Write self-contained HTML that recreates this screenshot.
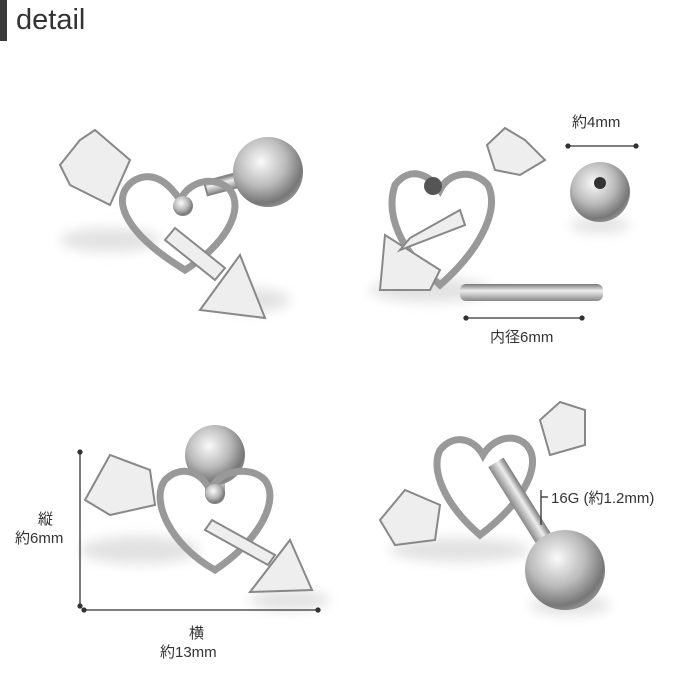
<!DOCTYPE html>
<html><head><meta charset="utf-8"><style>
html,body{margin:0;padding:0;background:#fff;}
body{width:700px;height:700px;position:relative;overflow:hidden;font-family:"Liberation Sans","Noto Sans CJK JP",sans-serif;}
.t{position:absolute;color:#333;font-size:15px;white-space:nowrap;}
</style></head><body>
<div style="position:absolute;left:0;top:0;width:7px;height:41px;background:#3a3a3a"></div>
<div class="t" style="left:16px;top:4px;font-size:29px;color:#333;">detail</div>
<svg width="700" height="700" style="position:absolute;left:0;top:0">
<defs>
<radialGradient id="b" cx="0.4" cy="0.35" r="0.7"><stop offset="0" stop-color="#fafafa"/><stop offset="0.5" stop-color="#bbb"/><stop offset="0.85" stop-color="#777"/><stop offset="1" stop-color="#999"/></radialGradient>
<linearGradient id="bar" x1="0" y1="0" x2="0" y2="1"><stop offset="0" stop-color="#777"/><stop offset="0.4" stop-color="#eee"/><stop offset="1" stop-color="#888"/></linearGradient>
<filter id="bl"><feGaussianBlur stdDeviation="6"/></filter>
</defs>
<g fill="#e2e2e2" filter="url(#bl)">
<ellipse cx="110" cy="240" rx="50" ry="12"/><ellipse cx="250" cy="300" rx="40" ry="12"/>
<ellipse cx="430" cy="290" rx="60" ry="12"/><ellipse cx="600" cy="225" rx="30" ry="8"/>
<ellipse cx="140" cy="550" rx="60" ry="14"/><ellipse cx="290" cy="600" rx="40" ry="10"/>
<ellipse cx="460" cy="550" rx="70" ry="12"/><ellipse cx="570" cy="605" rx="40" ry="10"/>
</g>
<g stroke="#888" stroke-width="2" fill="#eee">
<!-- TL -->
<rect x="205" y="175" width="50" height="14" fill="url(#bar)" transform="rotate(-15 230 182)"/>
<circle cx="268" cy="172" r="35" style="fill:url(#b)" stroke="none"/>
<path d="M185 270 C120 230 110 195 135 180 C155 170 170 185 180 200 C190 180 215 175 230 190 C245 210 225 245 185 270Z" fill="none" stroke="#999" stroke-width="7"/>
<circle cx="183" cy="206" r="10" style="fill:url(#b)" stroke="none"/>
<polygon points="80,140 95,130 130,160 110,205 70,185 60,165"/>
<polygon points="165,240 175,228 225,268 215,280"/>
<polygon points="240,255 265,318 200,310"/>
<!-- TR -->
<path d="M440 285 C400 250 385 215 395 185 C410 165 430 175 440 190 C450 170 475 170 488 185 C500 210 480 250 440 285Z" fill="none" stroke="#999" stroke-width="7"/>
<circle cx="433" cy="186" r="9" fill="#555" stroke="none"/>
<polygon points="380,290 385,235 440,270 430,290"/>
<polygon points="400,250 410,238 460,210 465,225"/>
<polygon points="487,145 505,128 525,140 545,160 520,175 495,170"/>
<circle cx="600" cy="192" r="30" style="fill:url(#b)" stroke="none"/>
<circle cx="600" cy="183" r="6" fill="#333" stroke="none"/>
<rect x="460" y="284" width="143" height="17" rx="6" fill="url(#bar)" stroke="none"/>
<!-- BL -->
<rect x="205" y="455" width="20" height="40" fill="url(#bar)" stroke="none"/>
<circle cx="215" cy="455" r="30" style="fill:url(#b)" stroke="none"/>
<path d="M215 570 C170 545 150 500 165 480 C180 465 200 470 210 490 C220 470 250 465 265 480 C280 500 260 540 215 570Z" fill="none" stroke="#999" stroke-width="7"/>
<circle cx="215" cy="494" r="10" style="fill:url(#b)" stroke="none"/>
<polygon points="85,500 110,455 150,470 155,505 110,515"/>
<polygon points="205,530 212,520 275,555 268,565"/>
<polygon points="290,540 312,590 250,592"/>
<!-- BR -->
<path d="M480 535 C445 505 430 470 440 450 C455 432 475 440 483 455 C495 435 520 432 530 450 C540 470 520 505 480 535Z" fill="none" stroke="#999" stroke-width="7"/>
<polygon points="380,520 405,490 440,505 435,540 395,545"/>
<polygon points="540,420 560,402 585,410 585,445 550,455"/>
<rect x="470" y="500" width="110" height="18" fill="url(#bar)" stroke="none" transform="rotate(58 525 509)"/>
<circle cx="565" cy="570" r="40" style="fill:url(#b)" stroke="none"/>
</g>
<g stroke="#333" stroke-width="1.3" fill="#333">
<line x1="568" y1="146" x2="636" y2="146"/><circle cx="568" cy="146" r="2"/><circle cx="636" cy="146" r="2"/>
<line x1="466" y1="318" x2="582" y2="318"/><circle cx="466" cy="318" r="2"/><circle cx="582" cy="318" r="2"/>
<line x1="80" y1="452" x2="80" y2="606"/><circle cx="80" cy="452" r="2"/><circle cx="80" cy="606" r="2"/>
<line x1="84" y1="610" x2="318" y2="610"/><circle cx="84" cy="610" r="2"/><circle cx="318" cy="610" r="2"/>
<line x1="541" y1="490" x2="541" y2="525"/><line x1="541" y1="497" x2="548" y2="497"/>
</g>
</svg>
<div class="t" style="left:572px;top:111px">約4mm</div>
<div class="t" style="left:490px;top:326px">内径6mm</div>
<div class="t" style="left:38px;top:508px">縦</div>
<div class="t" style="left:15px;top:527px">約6mm</div>
<div class="t" style="left:189px;top:622px">横</div>
<div class="t" style="left:160px;top:641px">約13mm</div>
<div class="t" style="left:551px;top:487px">16G (約1.2mm)</div>
</body></html>
